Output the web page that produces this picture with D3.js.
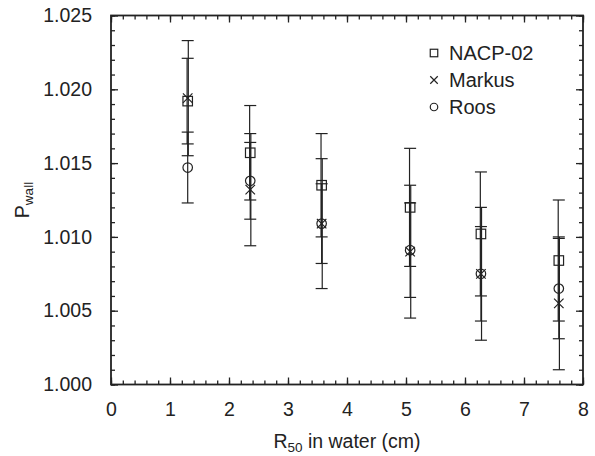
<!DOCTYPE html>
<html>
<head>
<meta charset="utf-8">
<script src="https://cdn.jsdelivr.net/npm/d3@7"></script>
<style>
  body { margin: 0; background: #fff; }
  svg { font-family: Arial, "Liberation Sans", sans-serif; }
</style>
</head>
<body>
<svg id="chart" width="595" height="456"></svg>
<script>
// R50 positions of the six beams
const r50 = [1.30, 2.36, 3.57, 5.07, 6.27, 7.59];

// Pwall values and uncertainties per chamber/method
const nacp = [1.0192, 1.0157, 1.0135, 1.0120, 1.0102, 1.0084];
const nacpErr = [0.0029, 0.0032, 0.0035, 0.0040, 0.0042, 0.0041];
const markus = [1.0194, 1.0132, 1.0109, 1.0090, 1.0075, 1.0055];
const markusErr = [0.0039, 0.0038, 0.0044, 0.0045, 0.0045, 0.0045];
const roos = [1.0147, 1.0138, 1.0109, 1.0091, 1.0075, 1.0065];
const roosErr = [0.0024, 0.0026, 0.0027, 0.0032, 0.0032, 0.0034];

const seriesNames = ['NACP-02', 'Markus', 'Roos'];
const xTicks = [0, 1, 2, 3, 4, 5, 6, 7, 8];
const yTicks = [1.000, 1.005, 1.010, 1.015, 1.020, 1.025];

const margins = {left: 111, right: 12, top: 15.5, bottom: 71.5};
const svg = d3.select('#chart');
const width = +svg.attr('width');
const height = +svg.attr('height');
const ink = '#222';

const x = d3.scaleLinear().domain([0, 8]).range([margins.left, width - margins.right]);
const y = d3.scaleLinear().domain([1.000, 1.025]).range([height - margins.bottom, margins.top]);

const minorX = d3.range(0, 8.001, 0.2);
const minorY = d3.range(1.000, 1.02501, 0.001);

// inward ticks on all four sides
function tickAxis(axisFn, scale, vals, size, fmt) {
    return axisFn(scale).tickValues(vals).tickSizeInner(-size).tickSizeOuter(0).tickFormat(fmt);
}
const plotTop = margins.top, plotBottom = height - margins.bottom;
const plotLeft = margins.left, plotRight = width - margins.right;

function drawAxis(transform, axis) {
    const g = svg.append('g').attr('transform', transform).call(axis);
    g.select('.domain').remove();
    g.selectAll('line').attr('stroke', ink).attr('stroke-width', 1.3);
    return g;
}

// minor ticks
drawAxis(`translate(0,${plotBottom})`, tickAxis(d3.axisBottom, x, minorX, 4, ''));
drawAxis(`translate(0,${plotTop})`, tickAxis(d3.axisTop, x, minorX, 4, ''));
drawAxis(`translate(${plotLeft},0)`, tickAxis(d3.axisLeft, y, minorY, 4, ''));
drawAxis(`translate(${plotRight},0)`, tickAxis(d3.axisRight, y, minorY, 4, ''));

// major ticks with labels
drawAxis(`translate(0,${plotBottom})`, tickAxis(d3.axisBottom, x, xTicks, 7, d3.format('d')).tickPadding(18));
drawAxis(`translate(0,${plotTop})`, tickAxis(d3.axisTop, x, xTicks, 7, ''));
drawAxis(`translate(${plotLeft},0)`, tickAxis(d3.axisLeft, y, yTicks, 7, d3.format('.3f')).tickPadding(19));
drawAxis(`translate(${plotRight},0)`, tickAxis(d3.axisRight, y, yTicks, 7, ''));

svg.selectAll('.tick text').attr('fill', ink).attr('font-size', 19.5)
    .attr('font-family', 'Arial, "Liberation Sans", sans-serif');

// plot frame
svg.append('rect')
    .attr('x', plotLeft).attr('y', plotTop)
    .attr('width', plotRight - plotLeft).attr('height', plotBottom - plotTop)
    .attr('fill', 'none').attr('stroke', ink).attr('stroke-width', 1.8);

// axis titles
const xTitle = svg.append('text')
    .attr('x', (plotLeft + plotRight) / 2).attr('y', 448)
    .attr('text-anchor', 'middle').attr('font-size', 19.5).attr('fill', ink);
xTitle.append('tspan').text('R');
xTitle.append('tspan').attr('font-size', 13.5).attr('dy', 4).text('50');
xTitle.append('tspan').attr('dy', -4).text(' in water (cm)');

const yTitle = svg.append('text')
    .attr('transform', `translate(29,${(plotTop + plotBottom) / 2}) rotate(-90)`)
    .attr('text-anchor', 'middle').attr('font-size', 19.5).attr('fill', ink);
yTitle.append('tspan').text('P');
yTitle.append('tspan').attr('font-size', 13.5).attr('dy', 4).text('wall');

// series data
const series = [
    {name: seriesNames[0], vals: nacp, errs: nacpErr, shape: 'square', dx: -0.6},
    {name: seriesNames[1], vals: markus, errs: markusErr, shape: 'cross', dx: 0.6},
    {name: seriesNames[2], vals: roos, errs: roosErr, shape: 'circle', dx: 0}
];

const capHalf = 6;
const errG = svg.append('g');
series.forEach(s => {
    const pts = r50.map((r, i) => ({x: r, v: s.vals[i], e: s.errs[i]}));
    const g = errG.selectAll(null).data(pts).enter().append('g')
        .attr('stroke', ink).attr('stroke-width', 1.2).attr('fill', 'none');
    g.append('line')
        .attr('x1', d => x(d.x) + s.dx).attr('x2', d => x(d.x) + s.dx)
        .attr('y1', d => y(d.v + d.e)).attr('y2', d => y(d.v - d.e));
    g.append('line')
        .attr('x1', d => x(d.x) - capHalf).attr('x2', d => x(d.x) + capHalf)
        .attr('y1', d => y(d.v + d.e)).attr('y2', d => y(d.v + d.e));
    g.append('line')
        .attr('x1', d => x(d.x) - capHalf).attr('x2', d => x(d.x) + capHalf)
        .attr('y1', d => y(d.v - d.e)).attr('y2', d => y(d.v - d.e));
});

function drawMarker(g, shape, cx, cy, size) {
    const h = size / 2;
    if (shape === 'square') {
        g.append('rect').attr('x', cx - h).attr('y', cy - h).attr('width', size).attr('height', size)
            .attr('fill', 'none').attr('stroke', ink).attr('stroke-width', 1.2);
    } else if (shape === 'circle') {
        g.append('circle').attr('cx', cx).attr('cy', cy).attr('r', h)
            .attr('fill', 'none').attr('stroke', ink).attr('stroke-width', 1.2);
    } else {
        g.append('path').attr('d', `M${cx - h},${cy - h}L${cx + h},${cy + h}M${cx - h},${cy + h}L${cx + h},${cy - h}`)
            .attr('stroke', ink).attr('stroke-width', 1.2);
    }
}

const markG = svg.append('g');
series.forEach(s => {
    r50.forEach((r, i) => drawMarker(markG, s.shape, x(r), y(s.vals[i]), 9.5));
});

// legend
const legend = svg.append('g').attr('transform', 'translate(434,53)');
series.forEach((s, i) => {
    const row = legend.append('g').attr('transform', `translate(0,${i * 27})`);
    drawMarker(row, s.shape, 0, 0, 7.5);
    row.append('text').attr('x', 15).attr('y', 7).attr('font-size', 20)
        .attr('fill', ink).text(s.name);
});
</script>
</body>
</html>
